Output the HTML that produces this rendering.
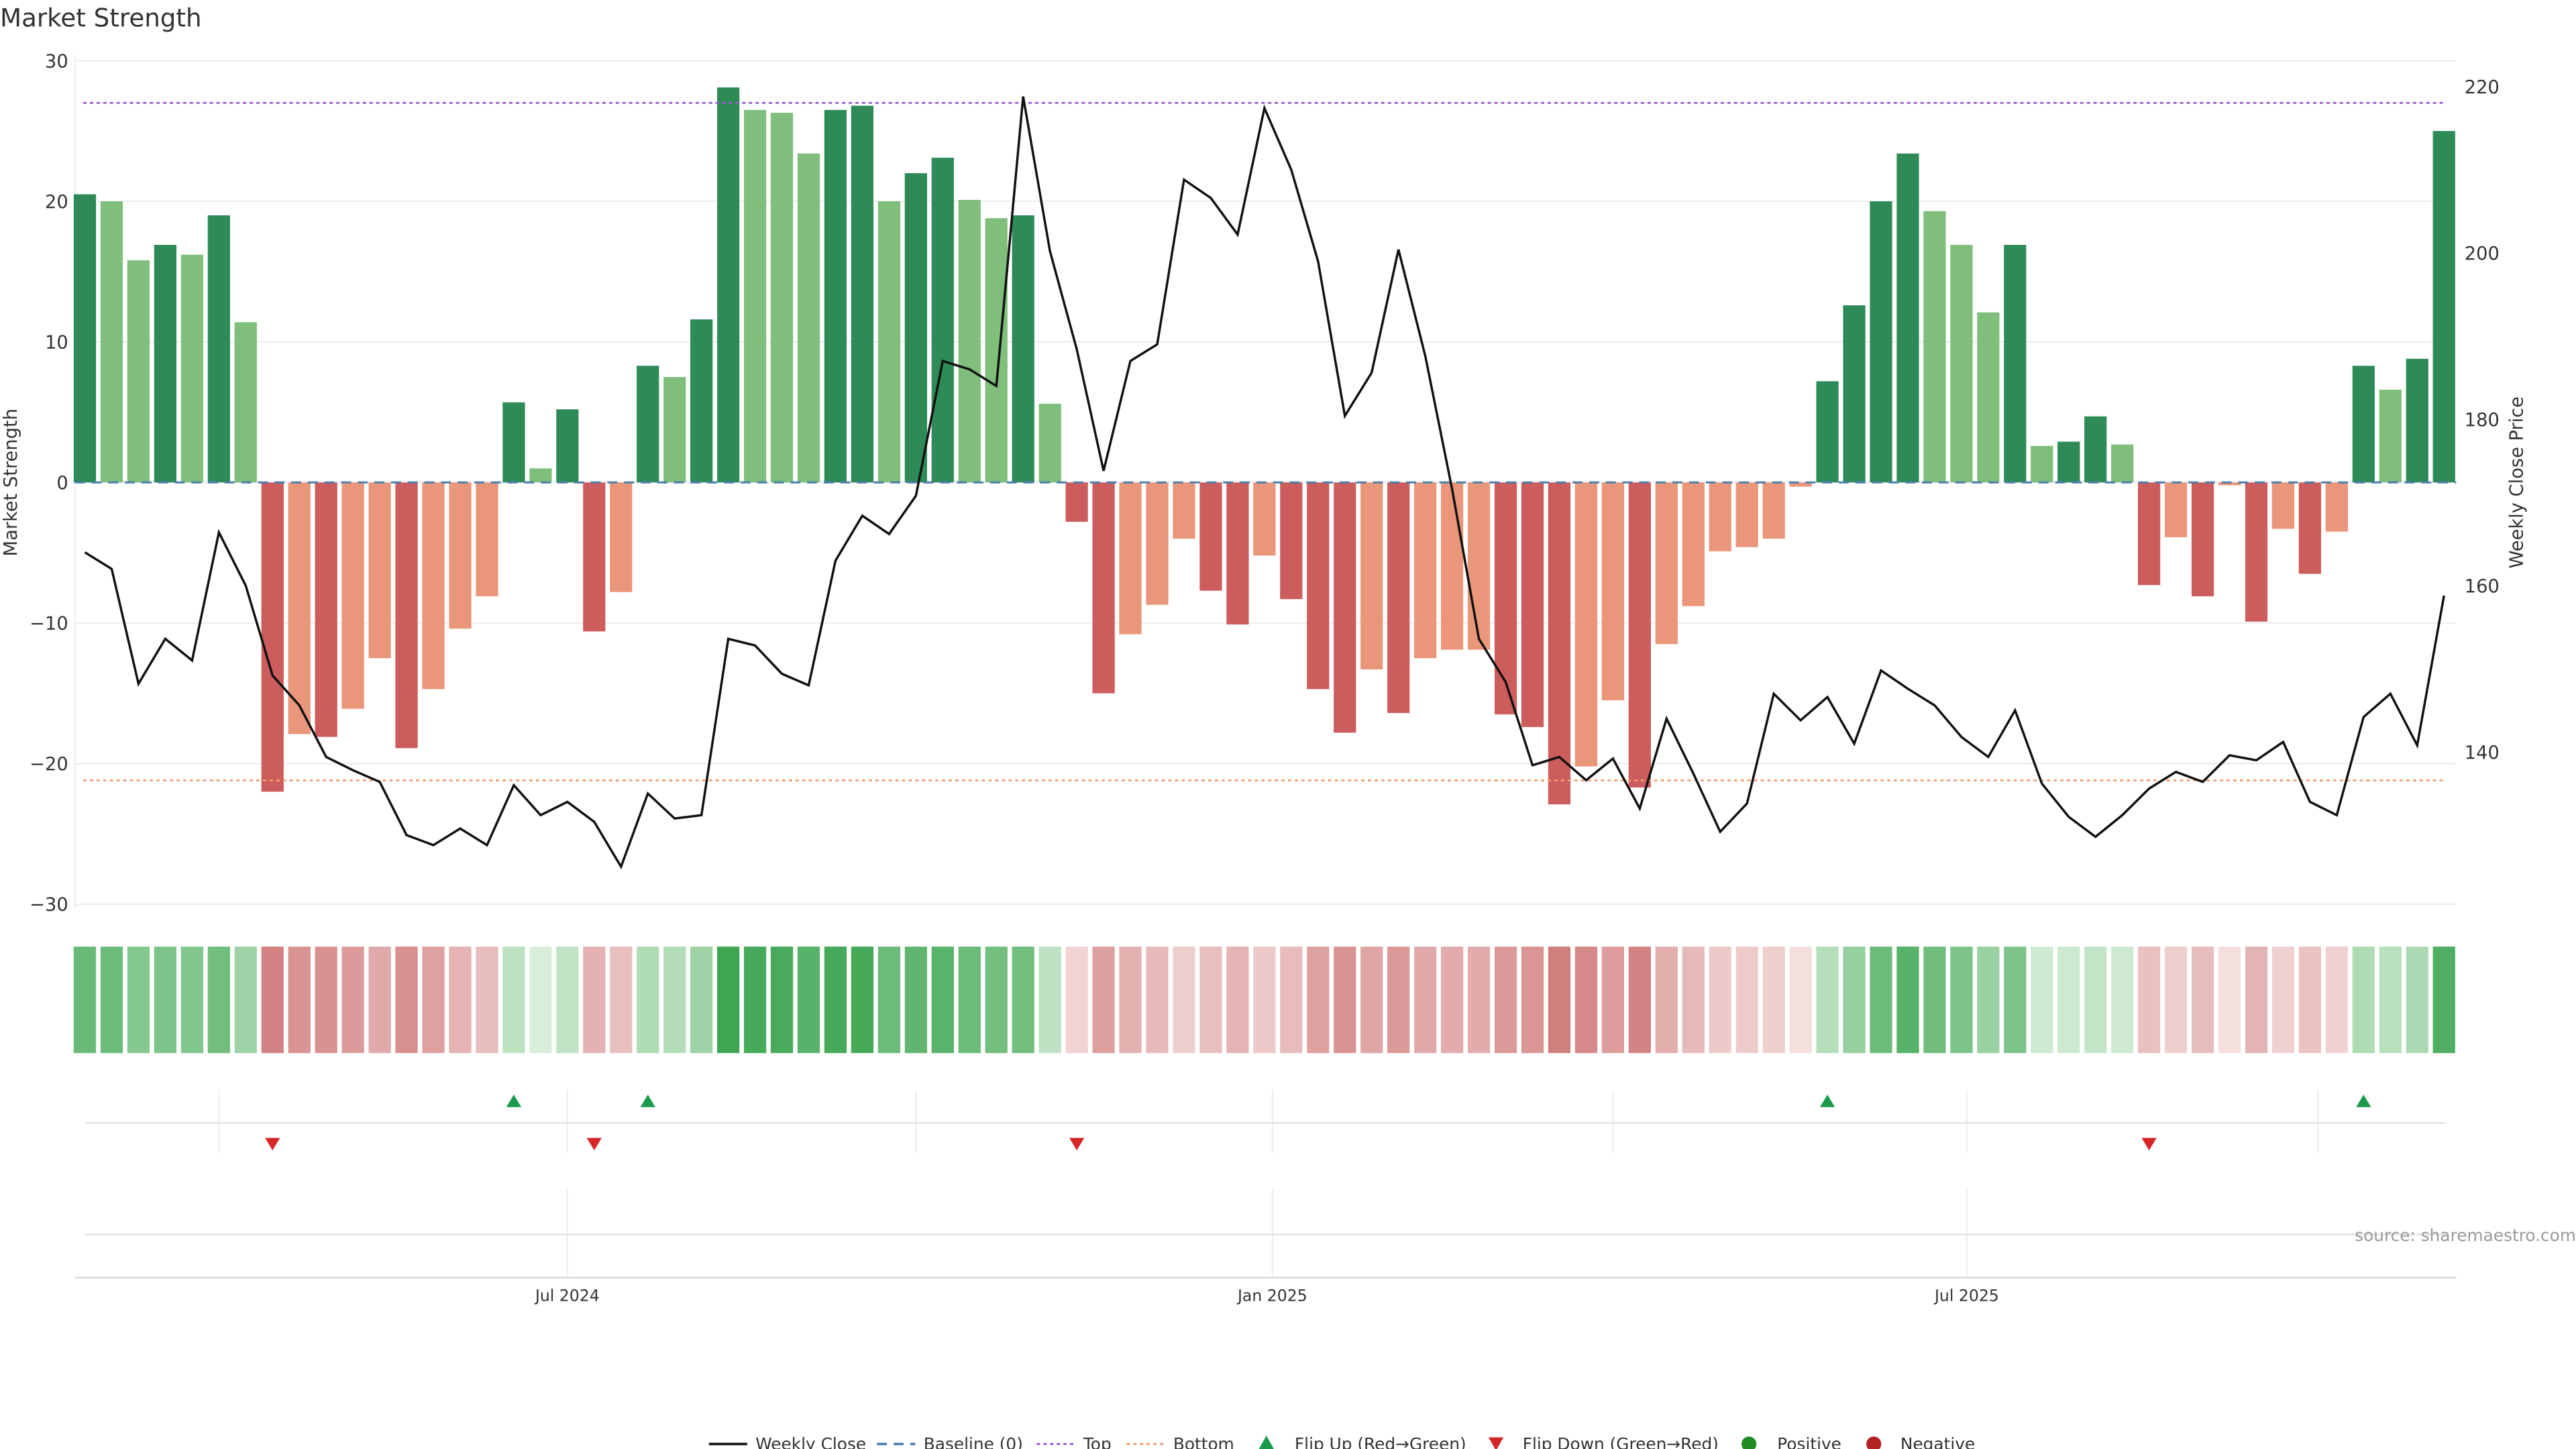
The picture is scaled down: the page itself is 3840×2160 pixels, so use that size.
<!DOCTYPE html>
<html><head><meta charset="utf-8"><style>
html,body{margin:0;padding:0;background:#fff;width:3840px;height:2160px;overflow:hidden}
svg{display:block;font-family:"DejaVu Sans","Liberation Sans",sans-serif}
</style></head><body>
<svg id="chart" width="3840" height="2160" viewBox="0 0 1548 871" preserveAspectRatio="none" xmlns="http://www.w3.org/2000/svg">
<text x="0" y="16" font-size="15" fill="#333">Market Strength</text>
<g id="grid"></g>
<g id="bars"></g>
<g id="lines"></g>
<g id="heat"></g>
<g id="flips"></g>
<g id="axes"></g>
<text transform="translate(10,290) rotate(-90)" text-anchor="middle" font-size="11" fill="#333">Market Strength</text>
<text transform="translate(1516,290) rotate(-90)" text-anchor="middle" font-size="11" fill="#333">Weekly Close Price</text>
<text x="1548" y="746" text-anchor="end" font-size="10" fill="#999">source: sharemaestro.com</text>
<g id="legend" font-size="10" fill="#333">
 <g><line x1="426" y1="868" x2="449" y2="868" stroke="#111" stroke-width="1.5"/><text x="454" y="871.5">Weekly Close</text></g>
 <g><line x1="527" y1="868" x2="550" y2="868" stroke="#4a7fae" stroke-width="1.5" stroke-dasharray="6,4"/><text x="555" y="871.5">Baseline (0)</text></g>
 <g><line x1="623" y1="868" x2="646" y2="868" stroke="#9b59d0" stroke-width="1.2" stroke-dasharray="2,2"/><text x="651" y="871.5">Top</text></g>
 <g><line x1="677" y1="868" x2="700" y2="868" stroke="#f0a070" stroke-width="1.2" stroke-dasharray="2,2"/><text x="705" y="871.5">Bottom</text></g>
 <g><path d="M761,863 L765.5,871 L756.5,871 Z" fill="#1a9a4a"/><text x="778" y="871.5">Flip Up (Red→Green)</text></g>
 <g><path d="M894.5,864 L903.5,864 L899,872 Z" fill="#d62728"/><text x="915" y="871.5">Flip Down (Green→Red)</text></g>
 <g><circle cx="1051" cy="868" r="4.5" fill="#228b22"/><text x="1068" y="871.5">Positive</text></g>
 <g><circle cx="1126" cy="868" r="4.5" fill="#b22222"/><text x="1142" y="871.5">Negative</text></g>
</g>
</svg>
<script>
const strength = [20.5,20,15.8,16.9,16.2,19,11.4,-22,-17.9,-18.1,-16.1,-12.5,-18.9,-14.7,-10.4,-8.1,5.7,1,5.2,-10.6,-7.8,8.3,7.5,11.6,28.1,26.5,26.3,23.4,26.5,26.8,20,22,23.1,20.1,18.8,19,5.6,-2.8,-15,-10.8,-8.7,-4,-7.7,-10.1,-5.2,-8.3,-14.7,-17.8,-13.3,-16.4,-12.5,-11.9,-11.9,-16.5,-17.4,-22.9,-20.2,-15.5,-21.7,-11.5,-8.8,-4.9,-4.6,-4,-0.3,7.2,12.6,20,23.4,19.3,16.9,12.1,16.9,2.6,2.9,4.7,2.7,-7.3,-3.9,-8.1,-0.2,-9.9,-3.3,-6.5,-3.5,8.3,6.6,8.8,25];
const strong = [1,0,0,1,0,1,0,1,0,1,0,0,1,0,0,0,1,0,1,1,0,1,0,1,1,0,0,0,1,1,0,1,1,0,0,1,0,1,1,0,0,0,1,1,0,1,1,1,0,1,0,0,0,1,1,1,0,0,1,0,0,0,0,0,0,1,1,1,1,0,0,0,1,0,1,1,0,1,0,1,0,1,0,1,0,1,0,1,1];
const closePrice = [164,162,148.2,153.6,151,166.4,160,149.2,145.6,139.4,137.8,136.4,130,128.8,130.8,128.8,136,132.4,134,131.6,126.2,135,132,132.4,153.6,152.8,149.4,148,163,168.4,166.2,170.8,187,186,184,218.8,200.2,188.4,173.8,187,189,208.8,206.6,202.2,217.4,210,199,180.4,185.6,200.4,187.6,171.6,153.6,148.4,138.4,139.4,136.6,139.2,133.2,144,137.4,130.4,133.8,147,143.8,146.6,141,149.8,147.6,145.6,141.8,139.4,145,136.2,132.2,129.8,132.4,135.6,137.6,136.4,139.6,139,141.2,134,132.4,144.2,147,140.8,158.8];
const leftTicks = [30,20,10,0,-10,-20,-30];
const rightTicks = [220,200,180,160,140];
const topLevel = 27;
const bottomLevel = -21.2;
const dateLabels = ["Jul 2024","Jan 2025","Jul 2025"];
const dateIndex = [18,44.3,70.2];

const NS="http://www.w3.org/2000/svg";
const X0=51, DX=16.11;
const xS=i=>X0+DX*i;
const yL=v=>290-v*8.45;
const yR=p=>52+(220-p)*5;
function mk(tag,attrs,parent){const e=document.createElementNS(NS,tag);for(const k in attrs)e.setAttribute(k,attrs[k]);document.getElementById(parent).appendChild(e);return e;}

leftTicks.forEach(t=>{
  const g=mk('line',{x1:45,x2:1476,y1:yL(t),y2:yL(t),stroke:'#ececf0','stroke-width':0.8},'grid');
  
  
  const tx=mk('text',{x:41,y:yL(t)+4,'text-anchor':'end','font-size':11,fill:'#333'},'axes');
  tx.textContent=t===0?'0':(t<0?'−'+(-t):t);
  
  
});
rightTicks.forEach(t=>{
  const tx=mk('text',{x:1481,y:yR(t)+4,'font-size':11,fill:'#333'},'axes');
  tx.textContent=t;
  
  
});
mk('line',{x1:45,x2:45,y1:33,y2:546,stroke:'#ececf0','stroke-width':0.8},'grid');

strength.forEach((v,i)=>{
  const pos=v>=0;
  const col=pos?(strong[i]?'#2e8b57':'#7fbf7b'):(strong[i]?'#cd5c5c':'#e9967a');
  const y=Math.min(yL(v),yL(0)), h=Math.abs(yL(v)-yL(0));
  const r=mk('rect',{x:xS(i)-6.7,y:y,width:13.4,height:Math.max(h,0.5),fill:col},'bars');
  
  
  const t=Math.min(Math.abs(v)/28,1);
  const mix=(a,b)=>a.map((c,k)=>Math.round(c+(b[k]-c)*t));
  const c=pos?mix([222,241,223],[62,166,82]):mix([245,223,223],[201,104,104]);
  const h2=mk('rect',{x:xS(i)-6.7,y:569,width:13.4,height:64,fill:`rgb(${c})`},'heat');
  
  
});

let l=mk('line',{x1:45,x2:1476,y1:yL(0),y2:yL(0),stroke:'#4a7fae','stroke-width':1.2,'stroke-dasharray':'6,4'},'lines');
 
l=mk('line',{x1:50,x2:1470,y1:yL(topLevel),y2:yL(topLevel),stroke:'#9b59d0','stroke-width':1.1,'stroke-dasharray':'2,2'},'lines');
 
l=mk('line',{x1:50,x2:1470,y1:yL(bottomLevel),y2:yL(bottomLevel),stroke:'#f0a070','stroke-width':1.1,'stroke-dasharray':'2,2'},'lines');
 
const pl=mk('polyline',{points:closePrice.map((p,i)=>xS(i)+','+yR(p)).join(' '),fill:'none',stroke:'#111','stroke-width':1.4},'lines');



// flip panel
mk('line',{x1:51,x2:1470,y1:675,y2:675,stroke:'#e2e2e2','stroke-width':1},'grid');
mk('line',{x1:51,x2:1470,y1:742,y2:742,stroke:'#e2e2e2','stroke-width':1},'grid');
[5,18,31,44.3,57,70.2,83.3].forEach(k=>mk('line',{x1:xS(k),x2:xS(k),y1:655,y2:693,stroke:'#ececec','stroke-width':0.8},'grid'));
dateIndex.forEach((k,j)=>{
  mk('line',{x1:xS(k),x2:xS(k),y1:715,y2:768,stroke:'#ececec','stroke-width':0.8},'grid');
  const tx=mk('text',{x:xS(k),y:782,'text-anchor':'middle','font-size':9.5,fill:'#333'},'axes');
  tx.textContent=dateLabels[j];
  
  
});
mk('line',{x1:45,x2:1476,y1:768,y2:768,stroke:'#d8d8d8','stroke-width':1},'axes');
for(let i=1;i<strength.length;i++){
  const a=strength[i-1]>=0,b=strength[i]>=0;
  if(!a&&b){const m=mk('path',{d:`M${xS(i)},658 L${xS(i)+4.5},665.5 L${xS(i)-4.5},665.5 Z`,fill:'#1a9a4a'},'flips');
     }
  if(a&&!b){const m=mk('path',{d:`M${xS(i)-4.5},684 L${xS(i)+4.5},684 L${xS(i)},691.5 Z`,fill:'#d62728'},'flips');
     }
}
</script>
</body></html>
